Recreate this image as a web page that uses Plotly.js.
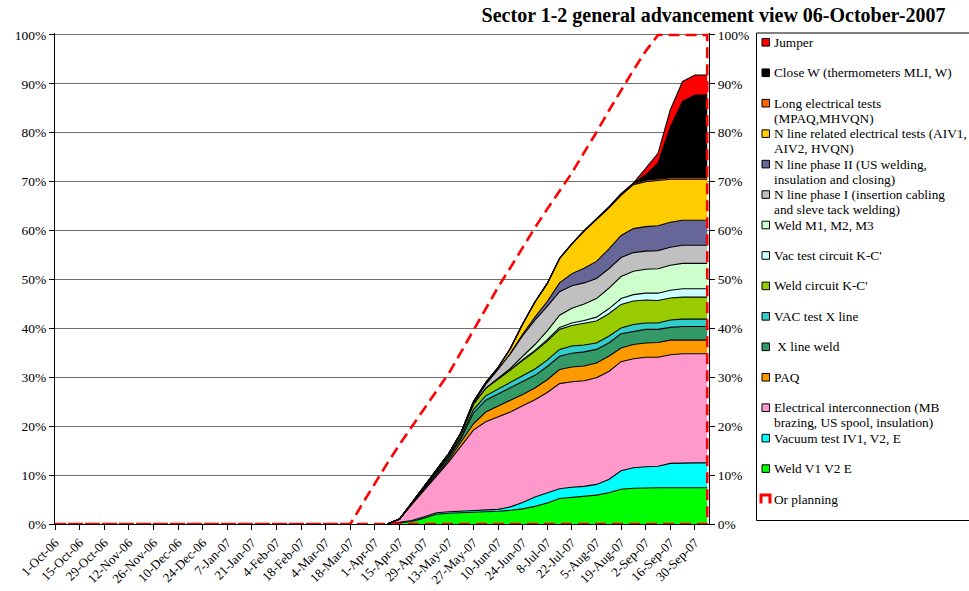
<!DOCTYPE html>
<html><head><meta charset="utf-8">
<script src="https://cdn.plot.ly/plotly-3.0.1.min.js"></script>
<style>html,body{margin:0;padding:0;background:#fff;}#chart{width:969px;height:591px;}</style>
</head><body><div id="chart"></div>
<script>
// Weekly dates (category axis)
const weeks = ['2006-10-01','2006-10-08','2006-10-15','2006-10-22','2006-10-29','2006-11-05','2006-11-12','2006-11-19','2006-11-26','2006-12-03','2006-12-10','2006-12-17','2006-12-24','2006-12-31',
'2007-01-07','2007-01-14','2007-01-21','2007-01-28','2007-02-04','2007-02-11','2007-02-18','2007-02-25','2007-03-04','2007-03-11','2007-03-18','2007-03-25',
'2007-04-01','2007-04-08','2007-04-15','2007-04-22','2007-04-29','2007-05-06','2007-05-13','2007-05-20','2007-05-27','2007-06-03','2007-06-10','2007-06-17','2007-06-24',
'2007-07-01','2007-07-08','2007-07-15','2007-07-22','2007-07-29','2007-08-05','2007-08-12','2007-08-19','2007-08-26','2007-09-02','2007-09-09','2007-09-16','2007-09-23','2007-09-30','2007-10-07'];
// weeks with work in progress (8-Apr-07 onward)
const workWeeks = weeks.slice(27);

// Planning (%), one value per week
const planning = [0,0,0,0,0,0,0,0,0,0,0,0,0,0,0,0,0,0,0,0,0,0,0,0,0,
  4.2,8.4,12.4,16.3,20.0,23.7,27.2,30.8,35.2,39.6,44.0,48.4,52.4,56.5,60.6,64.4,68.1,71.8,76.0,80.1,84.5,88.8,92.8,96.7,100,100,100,100,100];

// Stacked activities (% of sector), from 8-Apr-07 to 7-Oct-07
const weldV1V2E      = [0,0.3,0.5,1.2,2.0,2.2,2.3,2.3,2.4,2.6,2.8,3.1,3.6,4.3,5.2,5.4,5.6,5.9,6.4,7.1,7.3,7.4,7.4,7.4,7.4,7.4,7.4];
const vacuumTestIV1  = [0,0.1,0.2,0.3,0.3,0.3,0.3,0.4,0.4,0.4,0.7,1.3,1.9,2.0,2.0,2.1,2.1,2.2,2.7,3.8,4.2,4.3,4.4,5.0,5.1,5.1,5.1];
const elecInterconn  = [0,0.6,3.3,5.5,7.5,10.2,13.4,16.5,18.1,18.9,19.4,19.8,19.9,20.6,21.5,21.6,21.6,21.8,22.1,22.3,22.3,22.4,22.3,22.2,22.3,22.3,22.3];
const paq            = [0,0,0.1,0.2,0.3,0.4,0.7,1.3,2.0,2.2,2.3,2.3,2.4,2.6,2.9,3.0,3.0,3.0,3.1,2.8,2.9,2.9,3.0,3.0,2.8,2.8,2.8];
const xLineWeld      = [0,0,0.1,0.2,0.3,0.5,0.8,2.2,2.4,2.5,2.6,2.6,2.6,2.7,2.7,2.8,2.9,2.8,2.7,2.9,2.7,2.8,2.7,2.6,2.8,2.8,2.8];
const vacTestXLine   = [0,0,0.05,0.1,0.2,0.3,0.4,0.7,0.9,1.0,1.1,1.2,1.3,1.3,1.4,1.5,1.4,1.3,1.4,1.2,1.4,1.3,1.3,1.5,1.5,1.5,1.5];
const weldCircuitKC  = [0,0,0.1,0.2,0.3,0.5,0.7,1.1,1.6,2.1,2.6,3.2,3.6,3.9,4.1,4.2,4.4,4.5,4.6,4.8,4.8,4.7,4.6,4.5,4.5,4.5,4.5];
const vacTestKC      = [0,0,0,0,0,0,0,0,0,0,0,0.1,0.2,0.3,0.4,0.5,0.6,0.8,1.0,1.2,1.3,1.4,1.5,1.6,1.7,1.7,1.7];
const weldM1M2M3     = [0,0,0,0,0,0,0,0,0,0.1,0.3,0.7,1.2,1.8,2.5,3.0,3.4,3.8,4.2,4.5,4.8,4.9,5.0,5.1,5.2,5.2,5.2];
const nLinePhaseI    = [0,0,0,0,0,0,0.1,0.3,0.8,1.8,3.0,4.2,5.0,5.0,4.8,4.6,4.3,4.1,4.0,3.9,3.8,3.7,3.7,3.7,3.7,3.7,3.7];
const nLinePhaseII   = [0,0,0,0,0,0,0,0,0,0,0.1,0.3,0.6,1.0,1.8,2.5,3.0,3.5,4.0,4.5,4.9,5.0,5.1,5.1,5.1,5.1,5.1];
const nLineElecTests = [0,0,0,0,0,0,0,0.2,0.3,0.4,1.0,2.1,3.1,3.7,5.0,6.1,7.6,8.5,8.4,8.2,9.0,9.2,9.3,8.8,8.4,8.4,8.4];
const longElecTests  = [0,0,0,0,0,0,0,0,0,0,0,0,0,0,0,0,0.1,0.2,0.2,0.3,0.3,0.3,0.3,0.3,0.3,0.3,0.3];
const closeW         = [0,0,0,0,0,0,0,0,0,0,0,0,0,0,0,0,0,0,0,0,0,1.1,3.2,10.4,15.6,16.9,16.9];
const jumper         = [0,0,0,0,0,0,0,0,0,0,0,0,0,0,0,0,0,0,0,0,0,1.3,2.0,3.5,4.1,4.1,4.1];

// series, bottom of the stack first
const seriesNames = ['Weld V1 V2 E','Vacuum test IV1, V2, E','Electrical interconnection (MB\nbrazing, US spool, insulation)','PAQ','\u00A0X line weld','VAC test X line',"Weld circuit K-C'","Vac test circuit K-C'",'Weld M1, M2, M3','N line phase I (insertion cabling\nand sleve tack welding)','N line phase II (US welding,\ninsulation and closing)','N line related electrical tests (AIV1,\nAIV2, HVQN)','Long electrical tests\n(MPAQ,MHVQN)','Close W (thermometers MLI, W)','Jumper'];
const seriesValues = [weldV1V2E,vacuumTestIV1,elecInterconn,paq,xLineWeld,vacTestXLine,weldCircuitKC,vacTestKC,weldM1M2M3,nLinePhaseI,nLinePhaseII,nLineElecTests,longElecTests,closeW,jumper];
const seriesColors = ['#00FF00','#00FFFF','#FF99CC','#FF9900','#339966','#33CCCC','#99CC00','#CCFFFF','#CCFFCC','#C0C0C0','#666699','#FFCC00','#FF6600','#000000','#FF0000'];
const planningName = 'Or planning';

const FONT = 'Liberation Serif, Times New Roman, serif';
const traces = seriesValues.map((v, i) => ({
  x: workWeeks, y: v, name: seriesNames[i].replace('\n',' '),
  type: 'scatter', mode: 'lines', stackgroup: 'one',
  line: {color: '#000', width: 1.1}, fillcolor: seriesColors[i],
  hoverinfo: 'skip', showlegend: false
}));
traces.push({
  x: weeks.concat([weeks[weeks.length-1], weeks[0]]),
  y: planning.concat([0, 0]),
  name: planningName, type: 'scatter', mode: 'lines', yaxis: 'y2',
  line: {color: '#FF0000', width: 2.6, dash: '11px,6px'},
  hoverinfo: 'skip', showlegend: false
});

// plot area geometry (pixels) for legend placement
const L = 55, R = 260, T = 33, B = 67, W = 969, H = 591;
const pw = W - L - R, ph = H - T - B;
const px2x = p => (p - L) / pw;
const px2y = p => (H - B - p) / ph;

const shapes = [{type: 'rect', xref: 'paper', yref: 'paper', x0: px2x(756.5), x1: px2x(995), y0: px2y(520.5), y1: px2y(33), line: {color: '#000', width: 1}, fillcolor: 'rgba(0,0,0,0)'}];
const annotations = [];
const legendOrder = seriesNames.map((n, i) => i).reverse();
legendOrder.forEach((si, k) => {
  const yc = 42.3 + 30.45 * k;
  shapes.push({type: 'rect', xref: 'paper', yref: 'paper', x0: px2x(762), x1: px2x(769.5), y0: px2y(yc + 3.8), y1: px2y(yc - 3.8), line: {color: '#000', width: 1}, fillcolor: seriesColors[si]});
  seriesNames[si].split('\n').forEach((ln, j) => {
    annotations.push({xref: 'paper', yref: 'paper', x: px2x(771.5), y: px2y(yc + j * 15), xanchor: 'left', yanchor: 'middle', text: ln, showarrow: false, font: {family: FONT, size: 13.3, color: '#000'}});
  });
});
{
  const yc = 42.3 + 30.45 * 15;
  const pth = 'M ' + px2x(761) + ',' + px2y(yc + 4.5) + ' L ' + px2x(761) + ',' + px2y(yc - 4) + ' L ' + px2x(770) + ',' + px2y(yc - 4) + ' L ' + px2x(770) + ',' + px2y(yc + 4.5);
  shapes.push({type: 'path', xref: 'paper', yref: 'paper', path: pth, line: {color: '#FF0000', width: 3}});
  annotations.push({xref: 'paper', yref: 'paper', x: px2x(771.5), y: px2y(yc), xanchor: 'left', yanchor: 'middle', text: planningName, showarrow: false, font: {family: FONT, size: 13.3, color: '#000'}});
}

const layout = {
  width: W, height: H,
  margin: {l: L, r: R, t: T, b: B, pad: 0},
  paper_bgcolor: '#fff', plot_bgcolor: '#fff',
  showlegend: false,
  font: {family: FONT, size: 13, color: '#000'},
  title: {text: '<b>Sector 1-2 general advancement view 06-October-2007</b>', font: {family: FONT, size: 20, color: '#000'},
          xref: 'container', x: 713.5 / W, xanchor: 'center', yref: 'container', y: 1 - 15 / H, yanchor: 'middle'},
  xaxis: {type: 'date', range: ['2006-10-01', '2007-10-08'], tick0: '2006-10-01', dtick: 14 * 86400000,
          tickformat: '%-d-%b-%y', tickangle: -45, ticks: 'outside', ticklen: 5, tickcolor: '#000',
          showline: true, linecolor: '#000', linewidth: 1, showgrid: false, zeroline: false,
          tickfont: {family: FONT, size: 13, color: '#000'}},
  yaxis: {range: [0, 100.4], tick0: 0, dtick: 10, ticksuffix: '%', ticks: 'outside', ticklen: 5, tickcolor: '#000',
          showline: true, linecolor: '#000', linewidth: 1, showgrid: true, gridcolor: '#6e6e6e', gridwidth: 1, zeroline: false,
          tickfont: {family: FONT, size: 13.5, color: '#000'}},
  yaxis2: {range: [0, 100.4], overlaying: 'y', side: 'right', tick0: 0, dtick: 10, ticksuffix: '%', ticks: 'outside', ticklen: 5, tickcolor: '#000',
          showline: true, linecolor: '#000', linewidth: 1, showgrid: false, zeroline: false,
          tickfont: {family: FONT, size: 13.5, color: '#000'}},
  shapes: shapes, annotations: annotations
};
Plotly.newPlot('chart', traces, layout, {staticPlot: true, displayModeBar: false});
</script>
</body></html>
